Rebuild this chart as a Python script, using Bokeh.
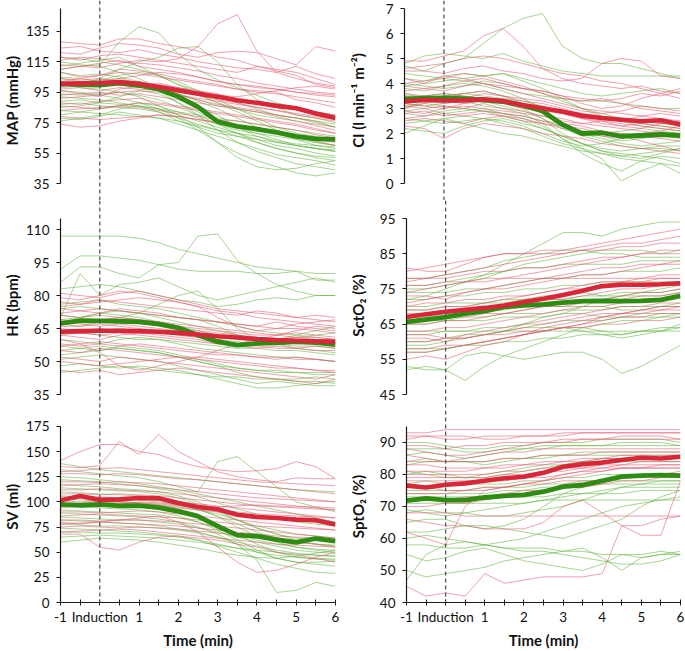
from bokeh.plotting import figure
from bokeh.models import Range1d, FixedTicker, Span
from bokeh.layouts import column, row
from bokeh.embed import file_html
from bokeh.resources import INLINE

# ---------------- data ----------------
TIME = [-1, -0.5, 0, 0.5, 1, 1.5, 2, 2.5, 3, 3.5, 4, 4.5, 5, 5.5, 6]
X_TICKS = [-1, 0, 1, 2, 3, 4, 5, 6]
X_MINOR = [-0.5, 0.5, 1.5, 2.5, 3.5, 4.5, 5.5]
X_LABELS = {-1: "-1", 0: "Induction", 1: "1", 2: "2", 3: "3", 4: "4", 5: "5", 6: "6"}
X_TITLE = "Time (min)"

MAP_LABEL = "MAP (mmHg)"
MAP_TICKS = [35, 55, 75, 95, 115, 135]
MAP_BOUNDS = (35, 150)
MAP_RED_MEAN = [100.5, 100.8, 101, 101.6, 100.5, 98.4, 96.2, 94, 92, 89.7, 88, 86, 84.4, 81, 78]
MAP_GREEN_MEAN = [100.5, 100, 99.7, 101, 99.4, 97, 92, 85.4, 75.7, 72.5, 70.8, 68.6, 66, 64.3, 64]
MAP_RED_LINES = [
    [110, 112, 111, 114, 116, 115, 117, 125, 140, 146, 122, 108, 112, 107, 104],
    [121, 120, 124, 127, 126, 124, 120, 118, 121, 122, 121, 117, 113, 125, 122],
    [118, 116, 119, 120, 118, 116, 114, 112, 110, 108, 112, 109, 106, 100, 98],
    [113, 112, 114, 116, 112, 110, 108, 105, 102, 100, 98, 97, 95, 93, 92],
    [108, 105, 106, 110, 109, 107, 104, 102, 100, 97, 96, 95, 90, 88, 85],
    [104, 103, 104, 102, 101, 100, 98, 96, 94, 90, 88, 86, 84, 82, 80],
    [100, 101, 99, 100, 102, 99, 97, 93, 90, 88, 85, 83, 80, 78, 76],
    [97, 98, 96, 98, 97, 96, 93, 90, 87, 85, 83, 80, 78, 75, 72],
    [93, 94, 95, 93, 94, 92, 90, 88, 86, 84, 82, 79, 76, 73, 70],
    [88, 87, 89, 90, 91, 88, 86, 84, 82, 80, 78, 76, 74, 71, 68],
    [83, 84, 85, 86, 85, 83, 81, 79, 77, 76, 74, 72, 70, 67, 65],
    [74, 72, 73, 76, 78, 80, 79, 77, 75, 73, 70, 68, 65, 63, 60],
    [128, 127, 126, 130, 130, 127, 125, 122, 118, 116, 112, 110, 108, 104, 100],
    [96, 94, 92, 97, 99, 101, 98, 95, 93, 92, 94, 96, 98, 99, 97],
    [124, 125, 122, 121, 123, 120, 118, 115, 113, 111, 110, 108, 104, 101, 99],
    [116, 118, 117, 115, 114, 113, 111, 109, 106, 104, 101, 99, 97, 95, 94],
    [102, 104, 106, 108, 107, 105, 103, 101, 99, 97, 95, 94, 92, 90, 88],
    [91, 92, 93, 95, 96, 95, 93, 91, 89, 87, 85, 83, 81, 79, 77],
    [86, 85, 84, 86, 88, 87, 85, 83, 81, 79, 77, 75, 73, 70, 68],
    [79, 78, 77, 78, 79, 80, 79, 77, 75, 73, 71, 69, 66, 64, 62],
    [99, 100, 102, 104, 106, 108, 107, 105, 102, 100, 99, 97, 95, 94, 93],
]
MAP_GREEN_LINES = [
    [110, 112, 113, 128, 138, 134, 120, 110, 103, 98, 93, 88, 85, 82, 80],
    [102, 100, 104, 110, 115, 118, 124, 125, 115, 100, 90, 85, 80, 78, 75],
    [115, 113, 112, 108, 104, 98, 92, 86, 80, 72, 66, 62, 60, 58, 56],
    [108, 106, 107, 105, 102, 96, 88, 80, 70, 62, 56, 52, 48, 46, 44],
    [100, 98, 97, 95, 92, 86, 80, 72, 62, 52, 46, 44, 45, 48, 50],
    [96, 95, 93, 91, 88, 84, 78, 70, 62, 55, 50, 46, 42, 40, 42],
    [92, 91, 90, 88, 86, 82, 76, 72, 68, 66, 64, 60, 58, 55, 53],
    [89, 90, 88, 87, 86, 84, 82, 78, 74, 70, 68, 66, 64, 62, 60],
    [85, 86, 88, 92, 96, 94, 88, 82, 76, 72, 68, 64, 60, 58, 56],
    [80, 82, 84, 86, 88, 86, 82, 80, 78, 76, 74, 72, 70, 68, 66],
    [112, 114, 116, 118, 112, 106, 100, 96, 92, 88, 84, 80, 78, 76, 74],
    [105, 104, 102, 100, 99, 97, 94, 90, 86, 84, 82, 80, 78, 76, 72],
    [78, 77, 79, 82, 80, 78, 74, 70, 66, 62, 58, 54, 52, 50, 47],
    [98, 99, 100, 101, 100, 99, 96, 93, 88, 84, 80, 78, 76, 74, 72],
    [118, 117, 115, 113, 110, 106, 100, 94, 88, 82, 76, 70, 66, 62, 60],
    [104, 102, 103, 104, 101, 98, 94, 89, 84, 78, 72, 68, 64, 60, 58],
    [94, 93, 94, 95, 93, 90, 85, 80, 74, 68, 62, 58, 55, 52, 50],
    [87, 88, 86, 85, 84, 82, 78, 74, 70, 66, 62, 58, 55, 53, 52],
    [83, 82, 81, 80, 79, 78, 76, 73, 70, 68, 66, 63, 61, 60, 59],
    [99, 101, 103, 106, 108, 106, 102, 96, 90, 84, 78, 72, 68, 66, 64],
    [76, 78, 80, 84, 86, 84, 80, 76, 72, 68, 64, 62, 60, 58, 57],
]

CI_LABEL = "CI (l min\u207b\u00b9 m\u207b\u00b2)"
CI_TICKS = [0, 1, 2, 3, 4, 5, 6, 7]
CI_BOUNDS = (0, 7)
CI_RED_MEAN = [3.28, 3.34, 3.32, 3.32, 3.37, 3.3, 3.14, 3.01, 2.88, 2.71, 2.62, 2.55, 2.49, 2.53, 2.36]
CI_GREEN_MEAN = [3.37, 3.41, 3.42, 3.39, 3.34, 3.28, 3.12, 2.9, 2.36, 2.0, 2.03, 1.89, 1.92, 1.96, 1.92]
CI_RED_LINES = [
    [4.9, 4.9, 5.1, 5.3, 5.9, 6.2, 5.5, 4.6, 4.2, 4.0, 3.9, 3.8, 3.9, 3.7, 3.6],
    [4.5, 4.5, 4.4, 4.6, 4.7, 4.5, 4.4, 4.2, 4.1, 4.2, 4.8, 5.0, 4.9, 4.3, 4.2],
    [4.2, 4.0, 4.3, 4.2, 4.0, 3.9, 3.8, 3.7, 3.5, 3.4, 3.3, 3.4, 3.6, 3.5, 3.7],
    [3.9, 3.8, 3.7, 3.9, 4.0, 3.8, 3.6, 3.4, 3.2, 3.0, 2.9, 2.8, 2.7, 2.6, 2.5],
    [3.6, 3.5, 3.6, 3.5, 3.4, 3.3, 3.2, 3.0, 2.9, 2.8, 2.7, 2.6, 2.5, 2.4, 2.4],
    [3.3, 3.3, 3.2, 3.3, 3.4, 3.3, 3.1, 3.0, 2.8, 2.6, 2.5, 2.3, 2.4, 2.3, 2.2],
    [3.1, 3.0, 3.1, 3.0, 3.2, 3.0, 2.9, 2.7, 2.6, 2.4, 2.3, 2.2, 2.1, 2.0, 2.0],
    [2.8, 2.9, 2.7, 2.8, 2.9, 2.8, 2.7, 2.5, 2.4, 2.3, 2.1, 2.0, 1.9, 1.8, 1.7],
    [2.5, 2.6, 2.5, 2.4, 2.6, 2.7, 2.5, 2.4, 2.3, 2.2, 2.0, 1.9, 1.7, 1.5, 1.3],
    [2.3, 2.2, 1.8, 2.2, 2.4, 2.3, 2.2, 2.0, 1.9, 1.8, 1.6, 1.5, 1.4, 1.3, 1.2],
    [3.7, 3.8, 3.9, 4.1, 4.2, 4.0, 3.8, 3.7, 3.5, 3.2, 3.0, 3.1, 3.4, 3.6, 3.8],
    [3.0, 3.2, 3.4, 3.6, 3.7, 3.5, 3.3, 3.2, 3.0, 2.8, 2.6, 2.5, 2.7, 2.8, 2.7],
    [4.6, 4.7, 4.8, 5.0, 5.1, 5.0, 4.8, 4.6, 4.4, 4.3, 4.1, 4.0, 3.8, 3.6, 3.4],
    [4.0, 4.1, 4.2, 4.4, 4.3, 4.1, 3.9, 3.6, 3.4, 3.3, 3.4, 3.2, 3.0, 2.9, 2.8],
    [3.5, 3.4, 3.3, 3.4, 3.6, 3.5, 3.4, 3.3, 3.1, 2.9, 2.8, 2.9, 3.1, 3.0, 2.9],
    [3.2, 3.1, 3.0, 3.1, 3.0, 2.9, 2.8, 2.7, 2.5, 2.4, 2.5, 2.4, 2.3, 2.2, 2.1],
    [2.6, 2.7, 2.8, 2.7, 2.8, 2.7, 2.6, 2.4, 2.2, 2.1, 1.9, 1.8, 2.0, 2.1, 2.3],
    [2.9, 2.8, 3.0, 3.2, 3.3, 3.2, 3.0, 2.9, 2.8, 2.6, 2.4, 2.3, 2.2, 2.4, 2.5],
]
CI_GREEN_LINES = [
    [4.7, 4.5, 4.8, 5.0, 5.6, 6.2, 6.6, 6.8, 5.5, 5.0, 4.8, 4.8, 4.6, 4.4, 4.2],
    [4.8, 5.1, 5.2, 5.1, 5.0, 5.2, 4.9, 4.7, 4.5, 4.4, 4.3, 4.3, 4.3, 4.3, 4.3],
    [4.2, 4.1, 4.3, 4.4, 4.3, 4.4, 4.2, 4.0, 3.8, 3.6, 3.5, 3.6, 3.7, 3.8, 3.6],
    [3.8, 3.7, 3.9, 4.0, 3.9, 3.7, 3.4, 3.0, 2.4, 2.0, 1.9, 1.7, 1.8, 1.9, 2.0],
    [3.5, 3.5, 3.6, 3.5, 3.4, 3.2, 3.0, 2.6, 2.0, 1.6, 1.4, 1.3, 1.4, 1.5, 1.5],
    [3.2, 3.1, 3.2, 3.3, 3.1, 3.0, 2.8, 2.4, 1.8, 1.2, 0.8, 0.5, 0.9, 1.1, 1.0],
    [2.9, 3.0, 2.8, 2.9, 3.0, 2.8, 2.6, 2.3, 1.8, 1.4, 1.0, 0.1, 0.5, 0.8, 0.4],
    [2.6, 2.5, 2.6, 2.7, 2.6, 2.5, 2.3, 2.0, 1.7, 1.5, 1.6, 1.8, 2.0, 1.9, 1.8],
    [2.2, 2.1, 2.0, 2.3, 2.5, 2.6, 2.4, 2.2, 1.9, 1.6, 1.3, 1.2, 1.1, 1.0, 0.8],
    [3.0, 3.3, 3.5, 3.6, 3.5, 3.4, 3.3, 3.1, 2.9, 2.7, 2.6, 2.5, 2.4, 2.3, 2.2],
    [2.0, 2.3, 2.6, 2.4, 2.2, 2.0, 1.9, 1.7, 1.5, 1.3, 1.2, 1.1, 1.2, 1.3, 1.4],
    [4.0, 3.9, 3.8, 3.9, 4.1, 4.0, 3.8, 3.6, 3.3, 3.0, 2.8, 2.6, 2.5, 2.4, 2.3],
    [3.9, 4.0, 4.1, 4.2, 4.3, 4.4, 4.1, 3.8, 3.4, 3.0, 2.7, 2.5, 2.3, 2.2, 2.1],
    [3.6, 3.4, 3.5, 3.6, 3.7, 3.5, 3.2, 2.8, 2.3, 2.0, 1.8, 1.6, 1.5, 1.6, 1.7],
    [3.3, 3.4, 3.3, 3.2, 3.3, 3.1, 2.9, 2.6, 2.2, 1.9, 1.7, 1.5, 1.4, 1.4, 1.3],
    [2.8, 2.7, 2.9, 3.0, 2.9, 2.7, 2.5, 2.2, 1.9, 1.6, 1.3, 1.1, 1.0, 1.2, 1.4],
    [2.4, 2.5, 2.4, 2.5, 2.6, 2.4, 2.2, 1.9, 1.6, 1.4, 1.2, 1.0, 0.9, 0.8, 0.7],
    [4.4, 4.3, 4.2, 4.1, 4.0, 3.8, 3.6, 3.5, 3.4, 3.3, 3.3, 3.2, 3.1, 3.0, 3.0],
    [3.1, 3.2, 3.1, 3.0, 2.9, 2.8, 2.7, 2.5, 2.3, 2.1, 2.0, 2.1, 2.2, 2.1, 2.0],
]

HR_LABEL = "HR (bpm)"
HR_TICKS = [35, 50, 65, 80, 95, 110]
HR_BOUNDS = (35, 115)
HR_RED_MEAN = [63.5, 63.8, 64, 64, 63.8, 63.5, 63, 62.3, 61.5, 60.9, 60.2, 59.7, 59.4, 59.2, 58.9]
HR_GREEN_MEAN = [67.3, 68.6, 68.5, 68.3, 68, 67, 65.3, 62, 59, 57.4, 58.2, 58.5, 59, 58.6, 57.7]
HR_RED_LINES = [
    [81, 80, 79, 81, 82, 80, 78, 76, 74, 73, 72, 71, 70, 69, 68],
    [77, 76, 78, 77, 76, 75, 74, 73, 72, 71, 73, 72, 70, 71, 70],
    [74, 73, 72, 74, 73, 72, 70, 69, 68, 67, 66, 68, 66, 65, 64],
    [71, 70, 71, 70, 69, 68, 67, 66, 65, 64, 63, 62, 63, 62, 61],
    [68, 67, 66, 67, 66, 65, 64, 64, 63, 62, 61, 60, 61, 60, 60],
    [65, 64, 65, 64, 63, 63, 62, 61, 60, 61, 60, 59, 58, 58, 57],
    [62, 61, 60, 62, 63, 62, 61, 60, 58, 57, 56, 57, 56, 55, 55],
    [58, 57, 58, 57, 58, 57, 56, 55, 54, 53, 52, 51, 52, 51, 50],
    [55, 54, 56, 55, 54, 53, 52, 52, 51, 50, 49, 48, 47, 46, 45],
    [52, 51, 50, 52, 51, 50, 49, 48, 47, 46, 45, 44, 43, 42, 44],
    [46, 45, 46, 44, 45, 46, 47, 46, 45, 44, 43, 42, 41, 40, 42],
    [60, 58, 54, 48, 46, 48, 50, 52, 55, 58, 60, 62, 64, 66, 65],
    [75, 76, 77, 78, 79, 78, 77, 75, 70, 66, 64, 65, 67, 68, 69],
    [79, 78, 80, 82, 81, 79, 77, 75, 73, 72, 70, 69, 68, 67, 66],
    [72, 73, 74, 73, 72, 71, 70, 69, 68, 67, 66, 65, 65, 64, 63],
    [69, 68, 69, 70, 69, 68, 66, 65, 64, 63, 62, 62, 61, 61, 60],
    [66, 66, 67, 66, 65, 64, 64, 63, 62, 61, 60, 60, 59, 59, 58],
    [63, 63, 62, 63, 62, 61, 60, 59, 58, 58, 57, 56, 56, 57, 56],
    [57, 58, 59, 58, 57, 56, 55, 54, 53, 53, 52, 52, 51, 51, 50],
    [50, 49, 48, 49, 50, 51, 52, 51, 50, 49, 48, 47, 47, 46, 46],
]
HR_GREEN_LINES = [
    [107, 107, 107, 107, 106, 104, 101, 99, 97, 95, 93, 92, 91, 90, 90],
    [92, 98, 98, 97, 96, 94, 92, 91, 91, 91, 90, 90, 91, 87, 87],
    [86, 93, 93, 90, 88, 94, 95, 107, 108, 96, 90, 85, 82, 80, 80],
    [70, 90, 80, 85, 86, 88, 84, 80, 78, 80, 82, 84, 86, 88, 86],
    [83, 84, 85, 84, 82, 80, 78, 77, 75, 76, 78, 79, 78, 80, 80],
    [67, 66, 68, 70, 72, 76, 80, 82, 74, 65, 60, 58, 56, 55, 54],
    [64, 63, 62, 61, 60, 60, 59, 58, 57, 56, 56, 55, 55, 54, 53],
    [60, 59, 58, 60, 61, 60, 58, 56, 55, 54, 53, 52, 52, 51, 50],
    [57, 56, 55, 57, 56, 55, 53, 51, 49, 47, 46, 45, 45, 44, 44],
    [51, 52, 53, 52, 51, 50, 48, 46, 44, 42, 40, 41, 40, 39, 39],
    [48, 49, 48, 47, 48, 47, 46, 44, 42, 40, 38, 38, 39, 40, 41],
    [53, 54, 55, 56, 55, 54, 52, 50, 48, 45, 43, 42, 42, 43, 42],
    [71, 70, 72, 71, 70, 68, 66, 64, 62, 60, 59, 60, 61, 62, 63],
    [76, 77, 78, 76, 75, 74, 72, 70, 68, 66, 64, 63, 62, 61, 60],
    [69, 70, 72, 73, 72, 70, 68, 66, 64, 62, 61, 60, 60, 59, 59],
    [62, 63, 64, 65, 64, 63, 62, 61, 60, 59, 58, 58, 57, 57, 56],
    [55, 56, 57, 56, 55, 54, 52, 50, 48, 47, 46, 46, 45, 45, 45],
    [45, 46, 47, 48, 47, 46, 45, 44, 43, 43, 42, 42, 41, 41, 40],
    [74, 75, 74, 73, 72, 71, 70, 69, 66, 62, 60, 60, 62, 64, 66],
]

SCTO2_LABEL = "SctO\u2082 (%)"
SCTO2_TICKS = [45, 55, 65, 75, 85, 95]
SCTO2_BOUNDS = (45, 95)
SCTO2_RED_MEAN = [67, 67.8, 68.5, 69.1, 69.6, 70.3, 71.3, 72.2, 73.3, 74.5, 75.8, 76.2, 76.2, 76.3, 76.6]
SCTO2_GREEN_MEAN = [65.6, 66.3, 67, 68, 68.7, 69.9, 70.3, 70.6, 71.1, 71.5, 71.6, 71.5, 71.6, 71.9, 73]
SCTO2_RED_LINES = [
    [81, 80, 80, 82, 84, 85, 85, 86, 86, 87, 88, 89, 90, 91, 92],
    [78, 78, 79, 80, 81, 82, 83, 84, 85, 86, 87, 88, 88, 89, 90],
    [76, 76, 77, 77, 78, 78, 79, 80, 81, 82, 83, 84, 85, 86, 86],
    [73, 73, 72, 74, 75, 75, 76, 77, 78, 79, 79, 80, 81, 82, 83],
    [70, 71, 71, 72, 72, 73, 73, 74, 75, 76, 77, 77, 78, 79, 79],
    [68, 68, 69, 69, 70, 70, 71, 72, 72, 73, 74, 75, 75, 76, 76],
    [66, 66, 67, 67, 68, 68, 69, 70, 71, 72, 72, 73, 74, 74, 75],
    [63, 63, 64, 64, 65, 66, 67, 68, 69, 70, 70, 71, 72, 72, 73],
    [61, 61, 60, 62, 63, 64, 65, 66, 67, 68, 69, 70, 70, 71, 71],
    [58, 58, 59, 59, 60, 61, 62, 64, 65, 66, 67, 68, 69, 70, 70],
    [55, 56, 55, 57, 59, 60, 62, 63, 64, 65, 67, 68, 68, 69, 69],
    [62, 62, 61, 61, 62, 62, 63, 63, 64, 64, 65, 65, 66, 66, 67],
    [74, 75, 76, 77, 77, 78, 78, 78, 78, 78, 78, 78, 78, 78, 78],
    [80, 81, 82, 83, 84, 85, 85, 85, 85, 86, 86, 87, 87, 88, 88],
    [77, 78, 78, 79, 80, 80, 81, 81, 82, 83, 84, 84, 85, 85, 85],
    [71, 72, 73, 74, 75, 76, 77, 78, 79, 80, 81, 81, 82, 82, 82],
    [69, 69, 70, 70, 71, 72, 73, 74, 75, 75, 76, 77, 77, 78, 78],
    [65, 65, 66, 66, 67, 68, 69, 70, 70, 71, 72, 72, 73, 73, 74],
    [60, 60, 61, 61, 62, 63, 64, 65, 66, 67, 68, 68, 69, 69, 70],
    [57, 57, 58, 59, 60, 61, 62, 63, 64, 65, 66, 67, 67, 68, 68],
]
SCTO2_GREEN_LINES = [
    [72, 73, 75, 77, 79, 82, 85, 88, 91, 91, 90, 92, 93, 94, 94],
    [78, 78, 79, 80, 81, 83, 84, 85, 86, 86, 85, 85, 84, 84, 84],
    [75, 75, 76, 77, 78, 80, 82, 83, 84, 85, 86, 86, 86, 85, 86],
    [72, 72, 73, 73, 74, 74, 75, 75, 76, 76, 77, 77, 77, 77, 77],
    [70, 70, 71, 71, 71, 72, 72, 73, 73, 74, 73, 74, 74, 74, 75],
    [67, 67, 68, 68, 69, 69, 70, 70, 70, 70, 70, 69, 69, 70, 70],
    [65, 65, 66, 66, 66, 67, 67, 67, 68, 68, 67, 67, 68, 68, 68],
    [63, 63, 63, 63, 63, 63, 63, 63, 63, 63, 63, 63, 63, 63, 63],
    [60, 60, 61, 62, 62, 63, 64, 64, 64, 63, 62, 61, 62, 63, 65],
    [57, 57, 58, 59, 60, 61, 62, 63, 64, 64, 63, 62, 63, 64, 64],
    [53, 52, 52, 49, 53, 56, 58, 60, 62, 64, 65, 66, 66, 67, 67],
    [52, 53, 52, 56, 57, 56, 55, 56, 57, 57, 55, 51, 53, 56, 59],
    [59, 59, 60, 61, 62, 63, 65, 67, 68, 70, 72, 73, 74, 75, 76],
    [76, 76, 77, 78, 79, 80, 81, 81, 82, 82, 82, 82, 83, 83, 83],
    [74, 74, 74, 75, 75, 76, 77, 78, 78, 79, 79, 80, 80, 80, 81],
    [69, 69, 70, 70, 71, 71, 72, 72, 72, 73, 73, 73, 73, 73, 74],
    [66, 66, 66, 67, 67, 68, 68, 68, 69, 69, 69, 70, 70, 70, 71],
    [62, 62, 63, 63, 64, 64, 65, 65, 66, 66, 66, 67, 67, 67, 68],
    [58, 58, 58, 59, 59, 60, 60, 61, 61, 62, 62, 62, 63, 63, 64],
]

SV_LABEL = "SV (ml)"
SV_TICKS = [0, 25, 50, 75, 100, 125, 150, 175]
SV_BOUNDS = (0, 175)
SV_RED_MEAN = [101.5, 105.8, 102, 102.5, 103.8, 103.5, 98.9, 95, 92.6, 87.3, 85, 84, 82.4, 81.7, 77.5]
SV_GREEN_MEAN = [97.6, 96.6, 97.6, 96, 96.2, 94.3, 90.6, 85.7, 75.8, 66.9, 65.9, 62.6, 59.7, 63.6, 61]
SV_RED_LINES = [
    [141, 150, 157, 157, 150, 147, 140, 135, 132, 130, 131, 133, 140, 135, 123],
    [135, 134, 136, 160, 147, 167, 150, 140, 130, 125, 122, 120, 124, 123, 123],
    [128, 128, 127, 128, 127, 125, 123, 122, 120, 118, 116, 114, 112, 110, 108],
    [120, 120, 119, 120, 119, 118, 116, 114, 112, 110, 108, 106, 104, 102, 100],
    [112, 112, 113, 112, 111, 110, 108, 106, 104, 102, 100, 98, 96, 94, 92],
    [105, 104, 105, 104, 103, 102, 100, 98, 96, 94, 92, 90, 88, 86, 84],
    [98, 97, 98, 97, 97, 96, 94, 92, 90, 88, 86, 84, 82, 80, 78],
    [90, 90, 89, 90, 91, 90, 88, 86, 84, 82, 80, 78, 76, 74, 72],
    [82, 82, 81, 82, 82, 81, 80, 78, 76, 74, 72, 70, 68, 66, 64],
    [75, 76, 75, 74, 75, 74, 73, 71, 69, 67, 64, 62, 60, 58, 55],
    [68, 68, 55, 52, 60, 65, 66, 64, 62, 58, 55, 50, 47, 44, 40],
    [80, 78, 80, 82, 84, 86, 80, 70, 55, 40, 30, 32, 38, 45, 50],
    [94, 96, 95, 98, 100, 99, 97, 96, 95, 96, 97, 96, 95, 95, 94],
    [130, 131, 133, 134, 132, 130, 128, 126, 124, 122, 120, 119, 118, 117, 116],
    [116, 117, 118, 117, 116, 114, 112, 110, 108, 106, 104, 103, 102, 101, 100],
    [108, 108, 107, 108, 107, 106, 104, 102, 100, 98, 96, 95, 94, 93, 92],
    [101, 100, 101, 100, 99, 98, 96, 94, 92, 90, 88, 87, 86, 85, 84],
    [86, 87, 88, 87, 86, 85, 84, 82, 80, 78, 76, 75, 74, 73, 72],
    [78, 79, 80, 79, 78, 77, 76, 74, 72, 70, 68, 66, 65, 64, 62],
    [70, 71, 72, 73, 72, 70, 68, 66, 64, 62, 60, 58, 57, 56, 55],
]
SV_GREEN_LINES = [
    [132, 130, 128, 126, 124, 120, 115, 110, 140, 145, 130, 115, 100, 95, 90],
    [125, 124, 122, 120, 118, 115, 112, 108, 104, 100, 96, 92, 88, 84, 80],
    [118, 116, 115, 113, 112, 110, 106, 100, 92, 82, 74, 68, 62, 58, 56],
    [110, 109, 108, 107, 106, 104, 100, 94, 85, 75, 66, 60, 55, 52, 50],
    [103, 102, 101, 100, 99, 97, 93, 88, 78, 68, 58, 50, 45, 43, 42],
    [96, 95, 94, 93, 92, 90, 86, 80, 72, 62, 52, 44, 40, 40, 41],
    [89, 88, 87, 86, 85, 83, 80, 75, 68, 58, 42, 10, 12, 20, 16],
    [82, 81, 80, 79, 78, 76, 73, 70, 65, 58, 50, 44, 40, 38, 36],
    [74, 73, 72, 71, 70, 68, 66, 62, 56, 50, 44, 38, 34, 30, 29],
    [65, 66, 67, 66, 65, 64, 62, 60, 57, 54, 52, 50, 48, 47, 46],
    [60, 62, 64, 63, 62, 60, 57, 54, 50, 47, 45, 44, 46, 49, 52],
    [98, 99, 100, 99, 98, 97, 95, 92, 88, 82, 76, 72, 68, 66, 64],
    [138, 135, 132, 130, 128, 126, 124, 122, 120, 118, 116, 114, 112, 111, 110],
    [122, 121, 120, 118, 116, 113, 110, 105, 99, 93, 88, 84, 80, 78, 76],
    [114, 113, 112, 111, 110, 108, 104, 98, 90, 82, 74, 68, 64, 62, 60],
    [106, 105, 104, 103, 102, 100, 97, 92, 86, 78, 70, 64, 60, 58, 57],
    [92, 91, 90, 89, 88, 87, 84, 80, 74, 68, 62, 58, 55, 53, 52],
    [85, 84, 83, 82, 82, 80, 78, 74, 70, 65, 60, 56, 52, 50, 49],
    [78, 77, 76, 76, 75, 74, 72, 69, 65, 60, 56, 52, 49, 47, 46],
    [70, 70, 69, 69, 68, 67, 65, 62, 58, 54, 50, 47, 45, 44, 43],
]

SPTO2_LABEL = "SptO\u2082 (%)"
SPTO2_TICKS = [40, 50, 60, 70, 80, 90]
SPTO2_BOUNDS = (40, 95)
SPTO2_RED_MEAN = [76.5, 75.9, 76.8, 77.2, 78, 78.8, 79.3, 80.5, 82.4, 83.2, 83.7, 84.5, 85.2, 85, 85.5]
SPTO2_GREEN_MEAN = [71.8, 72.5, 72, 72, 72.8, 73.3, 73.6, 74.6, 76.2, 76.7, 78, 79.3, 79.6, 79.8, 79.6]
SPTO2_RED_LINES = [
    [93, 93, 94, 94, 94, 94, 94, 94, 94, 94, 94, 94, 94, 94, 94],
    [91, 92, 92, 92, 91, 91, 92, 92, 92, 93, 93, 93, 93, 93, 93],
    [88, 87, 86, 86, 87, 88, 89, 90, 90, 91, 91, 92, 92, 92, 91],
    [86, 85, 84, 85, 86, 87, 87, 88, 88, 88, 88, 88, 88, 88, 88],
    [83, 83, 82, 82, 82, 83, 83, 84, 84, 85, 85, 86, 86, 86, 86],
    [80, 80, 80, 80, 80, 81, 81, 82, 82, 82, 83, 83, 83, 83, 83],
    [78, 78, 78, 78, 78, 78, 79, 79, 80, 81, 82, 82, 82, 82, 82],
    [76, 76, 75, 75, 76, 76, 77, 78, 80, 81, 81, 82, 82, 82, 82],
    [72, 72, 72, 73, 73, 74, 75, 75, 76, 76, 77, 78, 78, 79, 79],
    [68, 68, 68, 67, 67, 67, 67, 67, 67, 67, 67, 67, 67, 67, 67],
    [66, 65, 64, 64, 63, 63, 63, 65, 70, 72, 68, 64, 61, 61, 78],
    [45, 42, 43, 42, 49, 46, 47, 48, 48, 48, 49, 64, 64, 66, 67],
    [62, 60, 58, 70, 75, 76, 77, 77, 78, 78, 78, 79, 80, 80, 80],
    [92, 92, 91, 91, 92, 92, 92, 92, 93, 93, 93, 93, 93, 93, 93],
    [89, 89, 88, 89, 89, 90, 90, 90, 91, 91, 91, 91, 91, 91, 91],
    [84, 84, 84, 84, 84, 85, 85, 86, 86, 86, 87, 87, 87, 87, 87],
    [81, 81, 81, 81, 82, 82, 83, 83, 84, 84, 85, 85, 85, 85, 85],
    [79, 79, 79, 79, 79, 80, 80, 81, 81, 82, 82, 83, 84, 84, 84],
    [74, 74, 74, 75, 75, 76, 77, 78, 79, 80, 81, 82, 82, 83, 83],
    [70, 70, 71, 71, 72, 73, 74, 75, 76, 77, 78, 79, 80, 80, 81],
]
SPTO2_GREEN_LINES = [
    [90, 90, 89, 88, 88, 89, 89, 90, 90, 90, 91, 91, 91, 91, 90],
    [86, 87, 86, 85, 86, 87, 88, 88, 89, 89, 89, 89, 89, 89, 89],
    [83, 84, 84, 84, 83, 84, 85, 85, 86, 87, 87, 87, 87, 87, 87],
    [80, 81, 80, 79, 79, 80, 81, 82, 83, 84, 85, 85, 85, 85, 85],
    [77, 78, 77, 77, 77, 77, 78, 78, 79, 79, 80, 80, 80, 80, 80],
    [74, 74, 74, 74, 74, 75, 75, 76, 76, 76, 77, 77, 77, 77, 77],
    [71, 71, 71, 71, 71, 71, 71, 72, 72, 72, 72, 72, 72, 72, 72],
    [68, 69, 68, 68, 67, 67, 68, 69, 70, 72, 74, 76, 77, 78, 78],
    [65, 66, 66, 64, 63, 64, 66, 70, 74, 76, 78, 79, 80, 80, 80],
    [62, 62, 63, 64, 64, 63, 62, 61, 60, 62, 64, 66, 70, 73, 75],
    [60, 61, 60, 59, 58, 57, 57, 57, 56, 56, 55, 55, 54, 55, 56],
    [55, 53, 54, 56, 57, 55, 53, 52, 51, 50, 52, 55, 55, 56, 55],
    [50, 48, 49, 50, 51, 53, 54, 55, 56, 57, 54, 50, 54, 55, 55],
    [47, 55, 58, 59, 58, 57, 56, 56, 55, 54, 53, 52, 52, 53, 55],
    [88, 88, 88, 87, 87, 88, 88, 89, 89, 89, 89, 90, 90, 90, 89],
    [84, 85, 84, 84, 84, 85, 85, 86, 86, 86, 86, 86, 86, 86, 86],
    [81, 80, 79, 79, 80, 81, 82, 83, 83, 84, 84, 84, 84, 84, 84],
    [75, 75, 75, 75, 76, 76, 76, 77, 77, 78, 78, 78, 78, 78, 78],
    [73, 73, 73, 73, 73, 73, 73, 73, 74, 74, 74, 74, 75, 75, 75],
    [69, 68, 67, 68, 69, 70, 71, 72, 73, 74, 75, 76, 76, 76, 76],
    [58, 58, 57, 57, 58, 59, 60, 62, 64, 66, 68, 70, 71, 72, 73],
]

# ---------------- style / layout ----------------
FONT = "Lato"
RED_THIN = "#e2546a"
GREEN_THIN = "#5fb03a"
THIN_ALPHA = 0.55
RED_MEAN = "#d92638"
GREEN_MEAN = "#2f8c12"
AXIS_COLOR = "#1a1a1a"

LEFT = dict(width=345, bl=59, br=10, label_standoff=2)
RIGHT = dict(width=339, bl=58, br=4, label_standoff=10)
# frame height, and pixel offsets (from frame top) of the top and bottom bound of the y axis
ROWS = [dict(h=200, top=8, bot=183), dict(h=210, top=18, bot=194), dict(h=193, top=16, bot=193)]
BOTTOM_BORDER = 48


def make_panel(col, rw, label, ticks, bounds, red_mean, green_mean, red_lines, green_lines,
               bottom_axis, label_standoff=None):
    lo, hi = bounds
    scale = (rw["bot"] - rw["top"]) / (hi - lo)
    y_end = hi + rw["top"] / scale
    y_start = lo - (rw["h"] - rw["bot"]) / scale
    bb = BOTTOM_BORDER if bottom_axis else 0
    p = figure(width=col["width"], height=rw["h"] + bb,
               x_range=Range1d(-1, 6), y_range=Range1d(y_start, y_end),
               output_backend="svg", toolbar_location=None,
               x_axis_location="below" if bottom_axis else None,
               min_border_left=col["bl"], min_border_right=col["br"],
               min_border_top=0, min_border_bottom=bb)
    p.outline_line_color = None
    p.xgrid.visible = False
    p.ygrid.visible = False
    p.background_fill_color = "white"
    p.border_fill_color = "white"

    p.multi_line([TIME] * len(green_lines), green_lines, line_color=GREEN_THIN,
                 line_alpha=THIN_ALPHA, line_width=1)
    p.multi_line([TIME] * len(red_lines), red_lines, line_color=RED_THIN,
                 line_alpha=THIN_ALPHA, line_width=1)
    p.line(TIME, green_mean, line_color=GREEN_MEAN, line_width=4.8, line_join="round")
    p.line(TIME, red_mean, line_color=RED_MEAN, line_width=4.6, line_join="round")

    p.add_layout(Span(location=0, dimension="height", line_color="#555555",
                      line_dash="4 3", line_width=1.3))

    ya = p.yaxis[0]
    ya.ticker = FixedTicker(ticks=ticks)
    ya.bounds = bounds
    ya.axis_label = label
    ya.axis_label_text_font = FONT
    ya.axis_label_text_font_size = "15px"
    ya.axis_label_text_font_style = "bold"
    ya.axis_label_text_color = "#111111"
    ya.axis_label_standoff = col["label_standoff"] if label_standoff is None else label_standoff
    ya.major_label_text_font = FONT
    ya.major_label_text_font_size = "13.5px"
    ya.major_label_text_color = "#111111"
    ya.major_label_standoff = 7
    ya.major_tick_in = 0
    ya.major_tick_out = 4
    ya.minor_tick_in = 0
    ya.minor_tick_out = 0
    ya.axis_line_color = AXIS_COLOR
    ya.major_tick_line_color = AXIS_COLOR
    ya.axis_line_width = 1.2

    if bottom_axis:
        xa = p.xaxis[0]
        xa.ticker = FixedTicker(ticks=X_TICKS, minor_ticks=X_MINOR)
        xa.major_label_overrides = X_LABELS
        xa.axis_label = X_TITLE
        xa.axis_label_text_font = FONT
        xa.axis_label_text_font_size = "15px"
        xa.axis_label_text_font_style = "bold"
        xa.axis_label_text_color = "#111111"
        xa.axis_label_standoff = 3
        xa.major_label_text_font = FONT
        xa.major_label_text_font_size = "13.5px"
        xa.major_label_text_color = "#111111"
        xa.major_label_standoff = 3
        xa.major_tick_in = 3
        xa.major_tick_out = 3
        xa.minor_tick_in = 3
        xa.minor_tick_out = 3
        xa.axis_line_color = AXIS_COLOR
        xa.major_tick_line_color = AXIS_COLOR
        xa.minor_tick_line_color = AXIS_COLOR
        xa.axis_line_width = 1.2
    return p


p_map = make_panel(LEFT, ROWS[0], MAP_LABEL, MAP_TICKS, MAP_BOUNDS, MAP_RED_MEAN, MAP_GREEN_MEAN,
                   MAP_RED_LINES, MAP_GREEN_LINES, False)
p_ci = make_panel(RIGHT, ROWS[0], CI_LABEL, CI_TICKS, CI_BOUNDS, CI_RED_MEAN, CI_GREEN_MEAN,
                  CI_RED_LINES, CI_GREEN_LINES, False, label_standoff=16)
p_hr = make_panel(LEFT, ROWS[1], HR_LABEL, HR_TICKS, HR_BOUNDS, HR_RED_MEAN, HR_GREEN_MEAN,
                  HR_RED_LINES, HR_GREEN_LINES, False)
p_sct = make_panel(RIGHT, ROWS[1], SCTO2_LABEL, SCTO2_TICKS, SCTO2_BOUNDS, SCTO2_RED_MEAN,
                   SCTO2_GREEN_MEAN, SCTO2_RED_LINES, SCTO2_GREEN_LINES, False)
p_sv = make_panel(LEFT, ROWS[2], SV_LABEL, SV_TICKS, SV_BOUNDS, SV_RED_MEAN, SV_GREEN_MEAN,
                  SV_RED_LINES, SV_GREEN_LINES, True)
p_spt = make_panel(RIGHT, ROWS[2], SPTO2_LABEL, SPTO2_TICKS, SPTO2_BOUNDS, SPTO2_RED_MEAN,
                   SPTO2_GREEN_MEAN, SPTO2_RED_LINES, SPTO2_GREEN_LINES, True)

layout = column(row(p_map, p_ci), row(p_hr, p_sct), row(p_sv, p_spt))

open("out.html", "w").write(file_html(layout, INLINE))
